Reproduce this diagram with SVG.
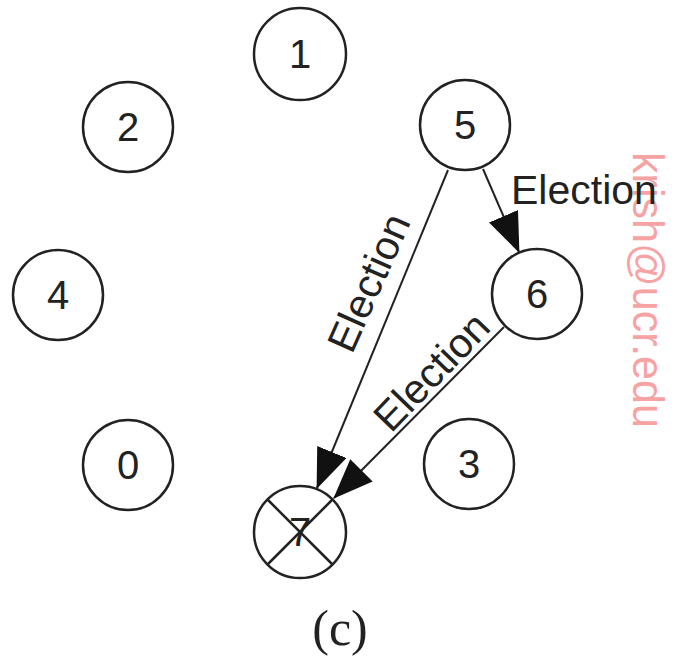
<svg xmlns="http://www.w3.org/2000/svg" width="677" height="661" viewBox="0 0 677 661">
<style>
.node circle{fill:#fff;stroke:#222;stroke-width:2.5}
.node text{font-family:"Liberation Sans",Arial,sans-serif;font-size:40px;fill:#222;text-anchor:middle}
.edge{stroke:#222;stroke-width:2;fill:none;marker-end:url(#ah)}
.lbl{font-family:"Liberation Sans",Arial,sans-serif;font-size:41px;fill:#222}
</style>
<defs>
<marker id="ah" markerUnits="userSpaceOnUse" markerWidth="40" markerHeight="32" viewBox="0 0 38 30" refX="37" refY="15" orient="auto">
<path d="M0,0 L38,15 L0,30 z" fill="#111"/>
</marker>
</defs>
<rect width="677" height="661" fill="#fff"/>
<text transform="translate(633,152) rotate(90)" font-family="Liberation Sans,Arial,sans-serif" font-size="45" fill="#f7a3a3" textLength="276" lengthAdjust="spacingAndGlyphs">krish@ucr.edu</text>
<g id="connectors">
<line class="edge" x1="483" y1="169" x2="519" y2="252"/>
<line class="edge" x1="448" y1="170" x2="317" y2="488"/>
<line class="edge" x1="504" y1="327" x2="334" y2="498"/>
<text class="lbl" x="511" y="204">Election</text>
<text class="lbl" transform="translate(352,355) rotate(-66)">Election</text>
<text class="lbl" transform="translate(391,434) rotate(-46)">Election</text>
</g>
<g id="n1" class="node"><circle cx="300" cy="54" r="46"/><text x="300" y="68">1</text></g>
<g id="n2" class="node"><circle cx="128" cy="127" r="45"/><text x="128" y="141">2</text></g>
<g id="n5" class="node"><circle cx="465" cy="125" r="45"/><text x="465" y="139">5</text></g>
<g id="n4" class="node"><circle cx="58" cy="295" r="45"/><text x="58" y="309">4</text></g>
<g id="n6" class="node"><circle cx="537" cy="294" r="45"/><text x="537" y="308">6</text></g>
<g id="n0" class="node"><circle cx="128" cy="465" r="45"/><text x="128" y="479">0</text></g>
<g id="n3" class="node"><circle cx="469" cy="464" r="45"/><text x="469" y="478">3</text></g>
<g id="n7" class="node"><circle cx="300" cy="532" r="46"/><text x="300" y="546">7</text>
<line x1="267.5" y1="499.5" x2="332.5" y2="564.5" stroke="#222" stroke-width="2.5"/>
<line x1="332.5" y1="499.5" x2="267.5" y2="564.5" stroke="#222" stroke-width="2.5"/>
</g>
<text x="340" y="645" font-family="Liberation Serif,Times New Roman,serif" font-size="50" fill="#222" text-anchor="middle">(c)</text>
</svg>
